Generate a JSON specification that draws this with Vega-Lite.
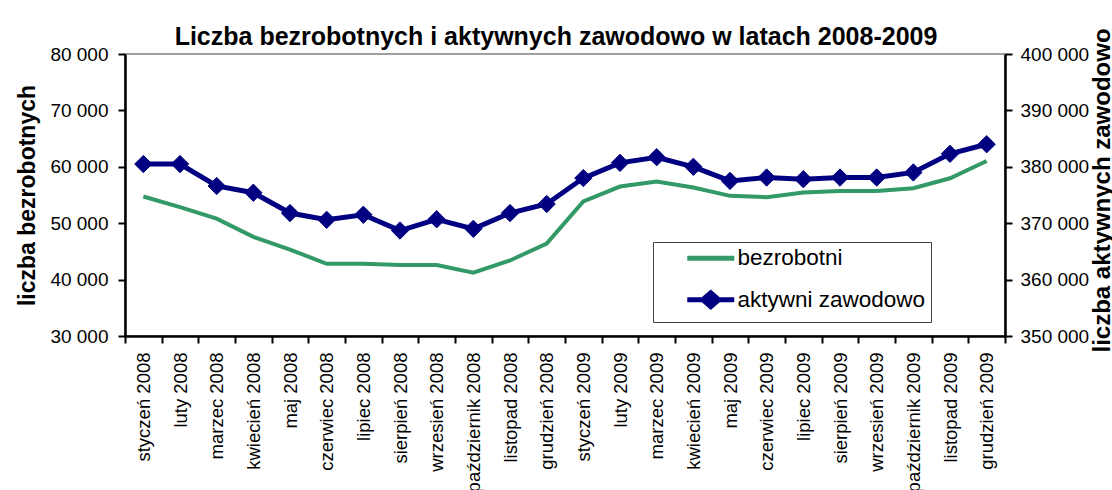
{
  "$schema": "https://vega.github.io/schema/vega-lite/v6.json",
  "width": 880,
  "height": 282,
  "autosize": {"type": "none"},
  "padding": {"left": 125, "top": 54, "right": 107, "bottom": 154},
  "background": "white",
  "title": {
    "text": "Liczba bezrobotnych i aktywnych zawodowo w latach 2008-2009",
    "font": "Liberation Sans",
    "fontSize": 25,
    "fontWeight": "bold",
    "color": "black",
    "anchor": "middle",
    "frame": "group",
    "baseline": "alphabetic",
    "offset": 11,
    "dx": -9,
    "dy": 53
  },
  "data": {
    "values": [
      {"month": "styczeń 2008", "bezrobotni": 54730, "aktywni": 380490},
      {"month": "luty 2008", "bezrobotni": 52860, "aktywni": 380490},
      {"month": "marzec 2008", "bezrobotni": 50800, "aktywni": 376600},
      {"month": "kwiecień 2008", "bezrobotni": 47570, "aktywni": 375400},
      {"month": "maj 2008", "bezrobotni": 45330, "aktywni": 371800},
      {"month": "czerwiec 2008", "bezrobotni": 42810, "aktywni": 370600},
      {"month": "lipiec 2008", "bezrobotni": 42810, "aktywni": 371500},
      {"month": "sierpień 2008", "bezrobotni": 42570, "aktywni": 368700},
      {"month": "wrzesień 2008", "bezrobotni": 42570, "aktywni": 370700},
      {"month": "październik 2008", "bezrobotni": 41230, "aktywni": 369000},
      {"month": "listopad 2008", "bezrobotni": 43390, "aktywni": 371800},
      {"month": "grudzień 2008", "bezrobotni": 46390, "aktywni": 373400},
      {"month": "styczeń 2009", "bezrobotni": 53850, "aktywni": 378000},
      {"month": "luty 2009", "bezrobotni": 56500, "aktywni": 380700},
      {"month": "marzec 2009", "bezrobotni": 57370, "aktywni": 381700},
      {"month": "kwiecień 2009", "bezrobotni": 56320, "aktywni": 380000},
      {"month": "maj 2009", "bezrobotni": 54850, "aktywni": 377500},
      {"month": "czerwiec 2009", "bezrobotni": 54620, "aktywni": 378100},
      {"month": "lipiec 2009", "bezrobotni": 55430, "aktywni": 377800},
      {"month": "sierpień 2009", "bezrobotni": 55730, "aktywni": 378100},
      {"month": "wrzesień 2009", "bezrobotni": 55730, "aktywni": 378100},
      {"month": "październik 2009", "bezrobotni": 56210, "aktywni": 379000},
      {"month": "listopad 2009", "bezrobotni": 57970, "aktywni": 382300},
      {"month": "grudzień 2009", "bezrobotni": 61020, "aktywni": 384000}
    ]
  },
  "encoding": {
    "x": {
      "field": "month",
      "type": "ordinal",
      "sort": null,
      "scale": {"type": "band", "paddingInner": 0, "paddingOuter": 0},
      "axis": {
        "title": null,
        "tickBand": "extent",
        "labelAngle": -90,
        "labelAlign": "right",
        "labelBaseline": "middle",
        "labelFontSize": 18.5,
        "labelPadding": 9,
        "tickSize": 7,
        "tickWidth": 2,
        "domainWidth": 2.5,
        "labelOverlap": false
      }
    }
  },
  "layer": [
    {
      "mark": {"type": "line", "strokeWidth": 4},
      "encoding": {
        "y": {
          "field": "bezrobotni",
          "type": "quantitative",
          "scale": {"domain": [30000, 80000], "nice": false, "zero": false},
          "axis": {
            "orient": "left",
            "title": "liczba bezrobotnych",
            "values": [30000, 40000, 50000, 60000, 70000, 80000],
            "labelExpr": "replace(format(datum.value, ','), ',', ' ')",
            "labelFontSize": 19,
            "labelPadding": 10,
            "tickSize": 7,
            "tickWidth": 2,
            "domainWidth": 2.5,
            "titleFontSize": 23,
            "titleAngle": -90,
            "titleBaseline": "alphabetic",
            "titleAlign": "center",
            "titleX": -91,
            "titleY": 141
          }
        },
        "color": {
          "datum": "bezrobotni",
          "type": "nominal",
          "scale": {"domain": ["bezrobotni", "aktywni zawodowo"], "range": ["#339966", "#000080"]},
          "legend": {
            "title": null,
            "orient": "none",
            "legendX": 528,
            "legendY": 188,
            "padding": 5,
            "fillColor": "white",
            "strokeColor": "#404040",
            "symbolSize": 100,
            "symbolStrokeWidth": 5,
            "symbolOffset": 29,
            "labelOffset": 28,
            "rowPadding": 12.5,
            "labelFont": "Liberation Sans",
            "labelFontSize": 22.5,
            "labelColor": "black",
            "labelLimit": 400,
            "encoding": {
              "symbols": {
                "shape": {"value": {"expr": "datum.value === 'bezrobotni' ? 'M-2.2,0H7.2' : 'M-2.2,0H7.2M0.9,0L2.5,-1.4L4.1,0L2.5,1.4Z'"}},
                "fill": {"value": {"expr": "datum.value === 'bezrobotni' ? 'transparent' : '#000080'"}}
              }
            }
          }
        }
      }
    },
    {
      "encoding": {
        "y": {
          "field": "aktywni",
          "type": "quantitative",
          "scale": {"domain": [350000, 400000], "nice": false, "zero": false},
          "axis": {
            "orient": "right",
            "title": "liczba aktywnych zawodowo",
            "values": [350000, 360000, 370000, 380000, 390000, 400000],
            "labelExpr": "replace(format(datum.value, ','), ',', ' ')",
            "labelFontSize": 19,
            "labelPadding": 8,
            "tickSize": 7,
            "tickWidth": 2,
            "domainWidth": 2.5,
            "titleFontSize": 24,
            "titleAngle": -90,
            "titleBaseline": "alphabetic",
            "titleAlign": "center",
            "titleX": 104,
            "titleY": 136
          }
        }
      },
      "layer": [
        {
          "mark": {"type": "line", "strokeWidth": 5},
          "encoding": {
            "color": {"datum": "aktywni zawodowo", "type": "nominal"}
          }
        },
        {
          "mark": {"type": "point", "shape": "diamond", "filled": true, "size": 300, "color": "#000080", "stroke": "#000080", "strokeWidth": 1, "opacity": 1}
        }
      ]
    }
  ],
  "resolve": {"scale": {"y": "independent"}},
  "config": {
    "font": "Liberation Sans",
    "view": {"stroke": "#808080", "strokeWidth": 1.5},
    "axis": {
      "grid": false,
      "domainColor": "black",
      "tickColor": "black",
      "labelColor": "black",
      "titleColor": "black",
      "labelFont": "Liberation Sans",
      "titleFont": "Liberation Sans",
      "titleFontWeight": "bold"
    }
  }
}
